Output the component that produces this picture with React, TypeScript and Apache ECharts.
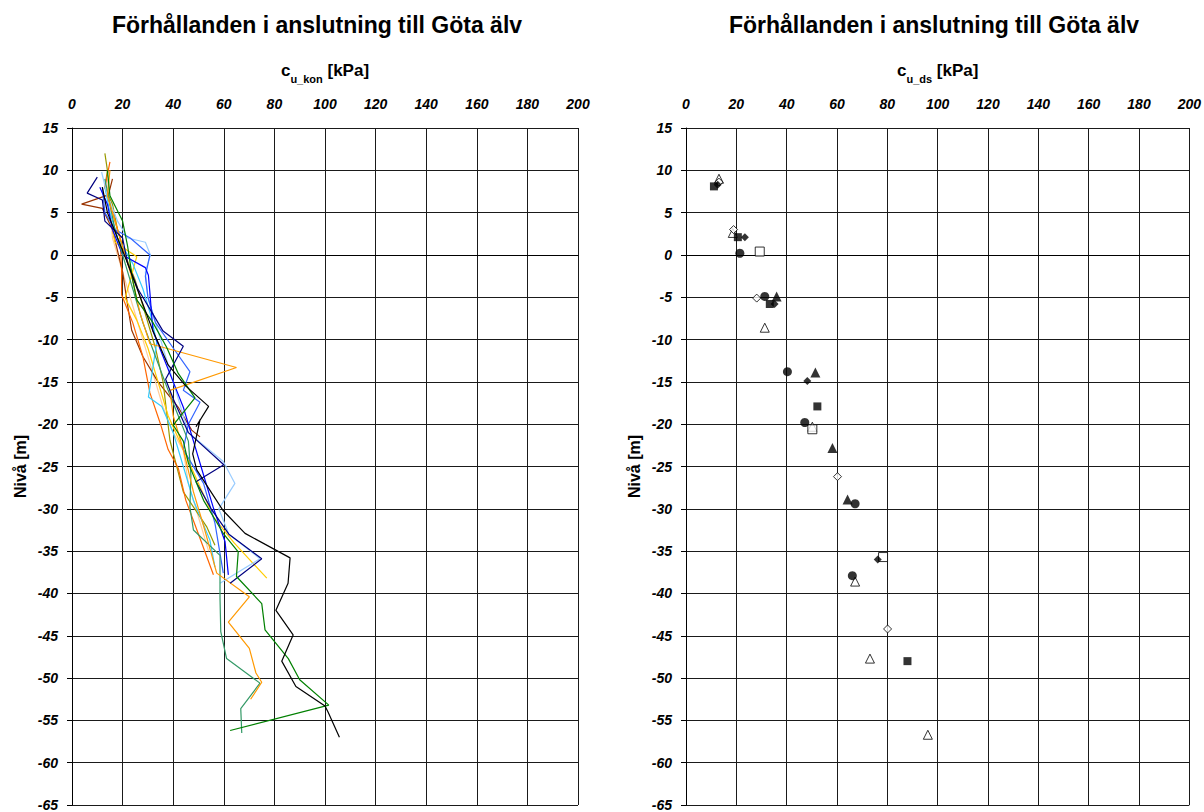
import React, { useEffect, useRef } from "react";
import * as echarts from "echarts";

// Titles and axis texts
const chartTitle = "Förhållanden i anslutning till Göta älv";
const yAxisTitle = "Nivå [m]";
const xMin = 0;
const xMax = 200;
const xStep = 20;
const yMin = -65;
const yMax = 15;
const yStep = 5;

// Left panel: c_u_kon profiles, [c_u (kPa), level (m)]
const konNavy = [[10, 9.2], [6, 7.3], [12, 6.5], [13, 4], [20, 2], [22, -1], [26, -4], [32, -7], [36, -9], [44, -10.8], [40, -13], [37, -14.7], [40, -17], [46, -21], [60, -24.8], [49, -26.8], [55, -30], [62, -33], [75, -35.9], [62.5, -38.8]];
const konBlack = [[12, 8], [14, 5], [18, 2], [22, -1], [27, -5], [32, -9], [38, -13], [45, -15.5], [54, -17.9], [49, -20.3], [50.6, -19.5], [47.7, -23.5], [49.3, -25.4], [59.7, -30.2], [68.4, -32.9], [86.2, -35.8], [85.4, -38.8], [80.6, -42], [87.4, -44.9], [82.9, -48], [88.5, -51], [100, -53.3], [101.2, -54], [105.7, -57]];
const konGreen = [[14, 10], [15, 7], [20, 4], [22, 1], [24, -3], [25.6, -5.3], [32, -8], [37.4, -10.9], [42, -14], [48.6, -16.9], [40, -20.1], [44, -22], [46, -24.6], [52, -29], [60, -33], [65.7, -35.1], [65, -38], [75, -41.2], [76.3, -44.3], [85.5, -47.7], [90, -50.2], [101.5, -53.2], [62.5, -56.2]];
const konSeaGreen = [[13, 9], [15, 6], [17, 3], [20, 0], [24, -4], [28, -8], [33, -12], [38, -16], [42, -19], [46, -22], [47, -26], [46.6, -29.8], [48, -32.5], [58.5, -35.5], [58.5, -40.5], [58.8, -44.5], [61.1, -47.7], [74.3, -50.6], [66.7, -53.6], [67.1, -56.5]];
const konOrange = [[15, 10], [14, 7], [17, 4], [20, 1], [24, -3], [27, -7], [30.8, -10.5], [65, -13.3], [38.7, -16], [40, -19], [44, -23], [48, -28], [52, -32], [57.2, -37.6], [70.1, -40.4], [61.8, -43.4], [70.1, -46.5], [72.7, -49.4], [75, -50.5], [70.6, -52.5]];
const konGold = [[16, 3], [17, 1.5], [25.6, -0.2], [21, -5.1], [25.6, -7.7], [30, -11], [34, -15], [38, -19], [44, -23], [50, -27], [56, -31], [64, -34], [77, -38.2]];
const konLightBlue = [[11.7, 9.8], [14, 7], [18, 4], [22, 2], [29, 1.5], [31, 0], [29, -2], [30, -5], [34, -9], [38, -13], [42, -17], [46, -21], [59.8, -24.4], [64.4, -27], [58, -30], [62, -33], [74.3, -35.9], [58.5, -38.8]];
const konMidBlue = [[12, 8], [13, 5], [17, 3], [23, 2], [26.9, 1], [30.8, 0], [29, -2.5], [30, -5], [33, -8], [40, -11], [46.6, -13.8], [44, -16], [50.6, -17.4], [46, -20], [44, -23], [52, -27], [56.5, -31.7], [59.8, -37.6]];
const konBlue = [[11, 8], [14, 6], [16, 3], [20, 0], [29, -1.5], [30.2, -2.4], [30.8, -4.5], [32, -9], [36, -12], [40, -15], [44, -18], [48, -22], [52, -26], [56, -30], [60.5, -33.9], [61.8, -37.8]];
const konCyan = [[13, 8], [15, 5], [18, 2], [24, -1], [28, -4], [31, -7], [33.5, -10.3], [30.2, -16.8], [35.5, -17.9], [40, -21], [44, -25], [48, -29], [54.5, -33.7], [56.5, -36.9]];
const konDarkOrange = [[15, 11], [13, 8], [16, 5], [19, 2], [19.6, -1.8], [19.6, -4.7], [24, -8], [28, -12], [30.8, -16.3], [35, -20], [38, -23], [42, -25.2], [45, -29], [50, -33], [55.9, -37.8]];
const konBrown = [[16, 9], [14.4, 7.1], [3.8, 6.0], [12, 5.5], [16, 3], [20, -2], [22, -6], [23.6, -8.9], [28, -12], [34, -15], [42, -18], [47.3, -20.7], [50.6, -21.5]];
const konPeach = [[14, 9], [15, 6], [16, 2], [20, -2], [24, -6], [28, -10], [32, -14], [36, -18], [40, -21], [44, -23.1], [46, -27], [50, -31], [54, -35]];
const konOlive = [[13, 12], [14, 10], [13, 8], [16, 6], [18, 3], [21, 0], [25, -3], [29, -7], [33, -11], [36, -15], [38.7, -21.9], [44, -28], [53.2, -32.1], [56.5, -34.3]];

const konProfiles = [
  { data: konPeach, color: "#ffcc99" },
  { data: konBrown, color: "#993300" },
  { data: konOlive, color: "#999900" },
  { data: konGold, color: "#ffcc00" },
  { data: konDarkOrange, color: "#ff6600" },
  { data: konCyan, color: "#33ccff" },
  { data: konLightBlue, color: "#99ccff" },
  { data: konMidBlue, color: "#3366ff" },
  { data: konBlue, color: "#0000ff" },
  { data: konSeaGreen, color: "#339966" },
  { data: konOrange, color: "#ff9900" },
  { data: konNavy, color: "#000080" },
  { data: konGreen, color: "#008000" },
  { data: konBlack, color: "#000000" },
];

// Right panel: c_u_ds points, [c_u (kPa), level (m)]
const dsFilledCircle = [[21.4, 0.2], [31.3, -4.9], [40.3, -13.8], [47.2, -19.8], [67.2, -29.4], [66.1, -37.9]];
const dsFilledSquare = [[11.1, 8.1], [20.6, 2.1], [33.3, -5.8], [52.2, -17.9], [88.0, -48.0]];
const dsFilledTriangle = [[36, -4.9], [51.4, -13.9], [58.2, -22.8], [64.2, -28.9]];
const dsFilledDiamond = [[12.6, 8.3], [23.4, 2.1], [35.2, -5.8], [48.2, -14.9], [76.2, -36.0]];
const dsOpenDiamond = [[13.1, 8.6], [18.9, 3.0], [28.1, -5.1], [60.2, -26.2], [80.1, -44.2]];
const dsOpenSquare = [[29.3, 0.4], [50.2, -20.6], [78.3, -35.7]];
const dsOpenTriangle = [[13.1, 9.0], [18.6, 2.6], [31.3, -8.6], [50.2, -20.3], [67.2, -38.6], [73.1, -47.7], [96.1, -56.7]];

const FONT = "Arial, 'Liberation Sans', sans-serif";

function xAxisFor(gridIndex: number, sub: string) {
  return {
    type: "value",
    gridIndex,
    position: "top",
    min: xMin,
    max: xMax,
    interval: xStep,
    name: `{a|c}{b|${sub}}{a| [kPa]}`,
    nameLocation: "middle",
    nameGap: 44,
    nameTextStyle: {
      rich: {
        a: { fontSize: 17, fontWeight: "bold", fontFamily: FONT, color: "#000", verticalAlign: "middle" },
        b: { fontSize: 11, fontWeight: "bold", fontFamily: FONT, color: "#000", verticalAlign: "bottom", lineHeight: 28 },
      },
    },
    axisLine: { show: true, lineStyle: { color: "#000", width: 1 } },
    axisTick: { show: false },
    axisLabel: {
      margin: 17,
      fontSize: 14,
      fontWeight: "bold",
      fontStyle: "italic",
      fontFamily: FONT,
      color: "#000",
    },
    splitLine: { show: true, lineStyle: { color: "#1a1a1a", width: 1 } },
  };
}

function yAxisFor(gridIndex: number) {
  return {
    type: "value",
    gridIndex,
    min: yMin,
    max: yMax,
    interval: yStep,
    name: yAxisTitle,
    nameLocation: "middle",
    nameGap: 44,
    nameRotate: 90,
    nameTextStyle: { fontSize: 16, fontWeight: "bold", fontFamily: FONT, color: "#000" },
    axisLine: { show: true, onZero: false, lineStyle: { color: "#000", width: 1 } },
    axisTick: { show: true, length: 5, lineStyle: { color: "#000" } },
    axisLabel: {
      margin: 14,
      fontSize: 14,
      fontWeight: "bold",
      fontStyle: "italic",
      fontFamily: FONT,
      color: "#000",
    },
    splitLine: { show: true, lineStyle: { color: "#1a1a1a", width: 1 } },
  };
}

function scatter(data: number[][], symbol: string, size: number, open: boolean) {
  return {
    type: "scatter",
    xAxisIndex: 1,
    yAxisIndex: 1,
    data,
    symbol,
    symbolSize: size,
    itemStyle: open
      ? { color: "#fff", borderColor: "#000", borderWidth: 1 }
      : { color: "#000", borderWidth: 0 },
  };
}

export default function App() {
  const ref = useRef<HTMLDivElement>(null);

  useEffect(() => {
    if (!ref.current) return;
    const chart = echarts.init(ref.current, undefined, { renderer: "svg" });

    const lineSeries = konProfiles.map((p) => ({
      type: "line",
      xAxisIndex: 0,
      yAxisIndex: 0,
      data: p.data,
      symbol: "none",
      lineStyle: { color: p.color, width: 1.2 },
      itemStyle: { color: p.color },
    }));

    const titleStyle = {
      text: chartTitle,
      fontSize: 23,
      fontWeight: "bold",
      fontFamily: FONT,
      fill: "#000",
      align: "center",
      verticalAlign: "middle",
    };

    const option = {
      animation: false,
      backgroundColor: "#fff",
      graphic: [
        { type: "text", x: 317, y: 25, style: titleStyle },
        { type: "text", x: 934, y: 25, style: titleStyle },
      ],
      grid: [
        { left: 72, top: 128, width: 506, height: 677 },
        { left: 686, top: 128, width: 507, height: 677 },
      ],
      xAxis: [xAxisFor(0, "u_kon"), xAxisFor(1, "u_ds")],
      yAxis: [yAxisFor(0), yAxisFor(1)],
      series: [
        ...lineSeries,
        scatter(dsOpenTriangle, "triangle", 9, true),
        scatter(dsOpenSquare, "rect", 9, true),
        scatter(dsOpenDiamond, "diamond", 8, true),
        scatter(dsFilledCircle, "circle", 9, false),
        scatter(dsFilledSquare, "rect", 8, false),
        scatter(dsFilledTriangle, "triangle", 10, false),
        scatter(dsFilledDiamond, "diamond", 8, false),
      ],
    };

    chart.setOption(option as any);
    return () => chart.dispose();
  }, []);

  return (
    <div
      ref={ref}
      style={{ position: "absolute", left: 0, top: 0, width: 1204, height: 812, background: "#fff" }}
    />
  );
}
